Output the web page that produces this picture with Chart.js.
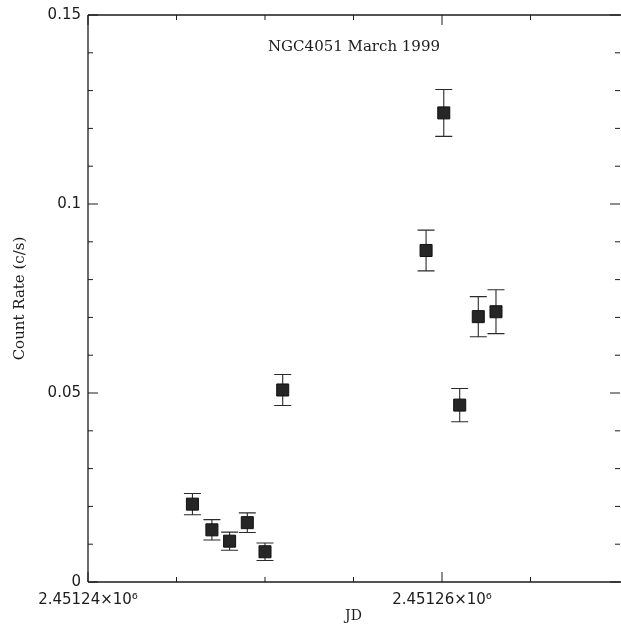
<!DOCTYPE html>
<html>
<head>
<meta charset="utf-8">
<script src="https://cdn.jsdelivr.net/npm/chart.js@4.4.0/dist/chart.umd.min.js"></script>
<style>
  html, body { margin: 0; padding: 0; background: #fff; }
  #lightCurve { display: block; }
</style>
</head>
<body>
<canvas id="lightCurve" width="621" height="626"></canvas>
<script>
// NGC4051 light curve, March 1999
let jdArr = [2451245.9, 2451247.0, 2451248.0, 2451249.0, 2451250.0, 2451251.0,
             2451259.1, 2451260.1, 2451261.0, 2451262.05, 2451263.05];
let rateArr = [0.0206, 0.0138, 0.0108, 0.0157, 0.0080, 0.0508,
               0.0877, 0.1241, 0.0468, 0.0702, 0.0715];
let errArr = [0.0028, 0.0027, 0.0024, 0.0026, 0.0023, 0.0041,
              0.0054, 0.0062, 0.0044, 0.0053, 0.0058];

// axis ticks
let xTicks = [2451240, 2451260];
let xMinorTicks = [2451245, 2451250, 2451255, 2451265];
let yTicks = [0, 0.05, 0.1, 0.15];
let yMinorTicks = [0.01, 0.02, 0.03, 0.04, 0.06, 0.07, 0.08, 0.09,
                   0.11, 0.12, 0.13, 0.14];

const ink = '#1c1c1c';
const sans = '"DejaVu Sans", sans-serif';
const serif = '"DejaVu Serif", serif';

// vertical error bars with caps, under the squares
const errorBars = {
  id: 'errorBars',
  beforeDatasetsDraw(chart) {
    const ctx = chart.ctx;
    const xs = chart.scales.x, ys = chart.scales.y;
    const cap = 8.5;
    ctx.save();
    ctx.strokeStyle = '#2a2a2a';
    ctx.lineWidth = 1.1;
    jdArr.forEach((jd, i) => {
      const px = xs.getPixelForValue(jd);
      const top = ys.getPixelForValue(rateArr[i] + errArr[i]);
      const bot = ys.getPixelForValue(rateArr[i] - errArr[i]);
      ctx.beginPath();
      ctx.moveTo(px, top); ctx.lineTo(px, bot);
      ctx.moveTo(px - cap, top); ctx.lineTo(px + cap, top);
      ctx.moveTo(px - cap, bot); ctx.lineTo(px + cap, bot);
      ctx.stroke();
    });
    ctx.restore();
  }
};

// box frame with inward ticks, plus the object label
const frame = {
  id: 'frame',
  afterDraw(chart) {
    const ctx = chart.ctx;
    const {left, right, top, bottom} = chart.chartArea;
    const xs = chart.scales.x, ys = chart.scales.y;
    ctx.save();
    ctx.strokeStyle = ink;
    ctx.lineWidth = 1.3;
    ctx.beginPath();
    ctx.moveTo(left, top); ctx.lineTo(left, bottom);
    ctx.moveTo(left, top); ctx.lineTo(right + 2, top);
    ctx.moveTo(left, bottom); ctx.lineTo(right + 2, bottom);
    ctx.stroke();

    ctx.lineWidth = 1;
    ctx.beginPath();
    const xt = (v, len) => {
      const p = xs.getPixelForValue(v);
      ctx.moveTo(p, bottom); ctx.lineTo(p, bottom - len);
      ctx.moveTo(p, top); ctx.lineTo(p, top + len);
    };
    const yt = (v, len) => {
      const p = ys.getPixelForValue(v);
      ctx.moveTo(left, p); ctx.lineTo(left + len, p);
      ctx.moveTo(right + 1, p); ctx.lineTo(right + 1 - len, p);
    };
    xTicks.forEach(v => xt(v, 10));
    xMinorTicks.forEach(v => xt(v, 5));
    yTicks.forEach(v => yt(v, 10));
    yMinorTicks.forEach(v => yt(v, 5));
    ctx.stroke();

    ctx.fillStyle = ink;
    ctx.font = '15px ' + serif;
    ctx.textAlign = 'center';
    ctx.textBaseline = 'middle';
    ctx.fillText('NGC4051 March 1999', 354, 47);
    ctx.restore();
  }
};

const lightCurveData = {
  datasets: [{
    label: 'NGC4051',
    data: jdArr.map((jd, i) => ({x: jd, y: rateArr[i]})),
    pointStyle: 'rect',
    pointRadius: 8.5,
    pointHoverRadius: 8.5,
    backgroundColor: '#262626',
    borderColor: '#111',
    borderWidth: 1,
    showLine: false
  }]
};

const lightCurveConfig = {
  type: 'scatter',
  data: lightCurveData,
  plugins: [errorBars, frame],
  options: {
    responsive: false,
    animation: false,
    layout: {
      autoPadding: false,
      padding: { top: 15, right: 2, left: 0, bottom: 0 }
    },
    plugins: {
      legend: { display: false },
      tooltip: { enabled: false }
    },
    scales: {
      x: {
        type: 'linear',
        min: 2451240,
        max: 2451270,
        afterFit: (scale) => {
          scale.height = 44;
          scale.paddingLeft = 0;
          scale.paddingRight = 0;
        },
        afterBuildTicks: (scale) => { scale.ticks = xTicks.map(v => ({value: v})); },
        grid: { display: false, drawTicks: false },
        border: { display: false },
        ticks: {
          color: ink,
          padding: 9,
          maxRotation: 0,
          font: { family: sans, size: 15 },
          callback: (v) => (v / 1e6).toFixed(5) + '×10⁶'
        },
        title: {
          display: true,
          text: 'JD',
          color: ink,
          font: { family: serif, size: 14 },
          padding: { top: 0, bottom: 1 }
        }
      },
      y: {
        min: 0,
        max: 0.15,
        afterFit: (scale) => {
          scale.width = 88;
          scale.paddingTop = 0;
          scale.paddingBottom = 0;
        },
        afterBuildTicks: (scale) => { scale.ticks = yTicks.map(v => ({value: v})); },
        grid: { display: false, drawTicks: false },
        border: { display: false },
        ticks: {
          color: ink,
          padding: 7,
          font: { family: sans, size: 15 },
          callback: (v) => String(Number(v.toFixed(2)))
        },
        title: {
          display: true,
          text: 'Count Rate (c/s)',
          color: ink,
          font: { family: serif, size: 15 },
          padding: { top: 11, bottom: 0 }
        }
      }
    }
  }
};

let lightCurve = new Chart(
  document.getElementById('lightCurve'),
  lightCurveConfig
);
</script>
</body>
</html>
